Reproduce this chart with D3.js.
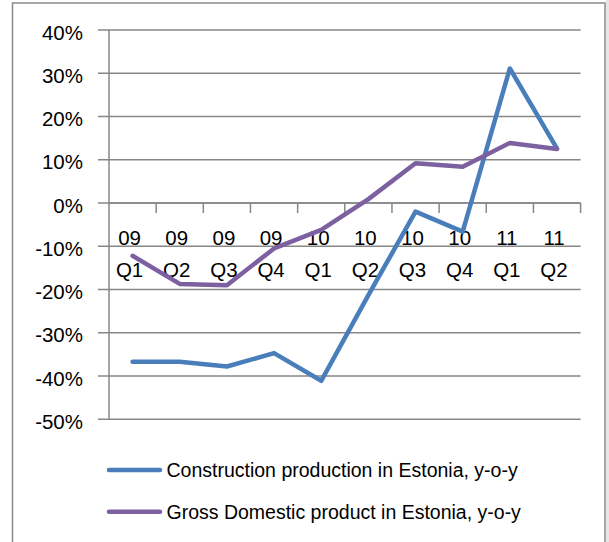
<!DOCTYPE html>
<html>
<head>
<meta charset="utf-8">
<script src="https://cdn.jsdelivr.net/npm/d3@7"></script>
<style>
  body { margin: 0; background: #fff; }
  text { font-family: "Liberation Sans", Arial, sans-serif; fill: #000; }
</style>
</head>
<body>
<div id="chart"></div>
<script>
const years = ['09', '09', '09', '09', '10', '10', '10', '10', '11', '11'];
const quarters = ['Q1', 'Q2', 'Q3', 'Q4', 'Q1', 'Q2', 'Q3', 'Q4', 'Q1', 'Q2'];
const construction = [-36.7, -36.7, -37.8, -34.7, -41.1, -21.3, -2.0, -6.6, 31.1, 12.6];
const gdp = [-12.2, -18.7, -19.0, -10.5, -6.2, 0.9, 9.2, 8.4, 13.9, 12.5];
const yTicks = [40, 30, 20, 10, 0, -10, -20, -30, -40, -50];
const seriesNames = ['Construction production in Estonia, y-o-y', 'Gross Domestic product in Estonia, y-o-y'];

const width = 609;
const height = 542;
const plot = {left: 109, right: 580.6, top: 30, bottom: 419.3};
const gridColor = '#878787';
const colors = ['#4A7EBB', '#7D60A0'];
const axisFont = 20.5;
const legendFont = 19.5;

const keys = years.map((y, i) => i);

const x = d3.scaleBand()
  .domain(keys)
  .range([plot.left, plot.right]);

const y = d3.scaleLinear()
  .domain([-50, 40])
  .range([plot.bottom, plot.top]);

// excel style percent, plain hyphen for negatives
const pct = (d) => d3.format('.0%')(d / 100).replace('\u2212', '-');

const svg = d3.select('#chart')
  .append('svg')
  .attr('width', width)
  .attr('height', height);

// chart frame
svg.append('rect')
  .attr('x', 606).attr('y', 0)
  .attr('width', 3).attr('height', height)
  .attr('fill', '#e6e6e6');

svg.append('rect')
  .attr('x', 12.5).attr('y', 3)
  .attr('width', 592.5).attr('height', 545)
  .attr('fill', '#fff')
  .attr('stroke', '#8a8a8a')
  .attr('stroke-width', 1.5);

// horizontal gridlines with outside ticks
svg.append('g')
  .selectAll('line')
  .data(yTicks)
  .enter()
  .append('line')
  .attr('x1', plot.left - 11)
  .attr('x2', plot.right)
  .attr('y1', d => y(d))
  .attr('y2', d => y(d))
  .attr('stroke', gridColor)
  .attr('stroke-width', 1.5);

svg.append('g')
  .selectAll('text')
  .data(yTicks)
  .enter()
  .append('text')
  .text(d => pct(d))
  .attr('x', 83)
  .attr('y', d => y(d) + 9.5)
  .attr('text-anchor', 'end')
  .attr('font-size', axisFont);

// value axis
svg.append('line')
  .attr('x1', plot.left).attr('x2', plot.left)
  .attr('y1', y(40)).attr('y2', y(-50))
  .attr('stroke', gridColor)
  .attr('stroke-width', 1.5);

// category axis crossing at 0
svg.append('line')
  .attr('x1', plot.left).attr('x2', plot.right)
  .attr('y1', y(0)).attr('y2', y(0))
  .attr('stroke', gridColor)
  .attr('stroke-width', 1.5);

svg.append('g')
  .selectAll('line')
  .data(keys)
  .enter()
  .append('line')
  .attr('x1', d => x(d) + x.bandwidth())
  .attr('x2', d => x(d) + x.bandwidth())
  .attr('y1', y(0))
  .attr('y2', y(0) + 10)
  .attr('stroke', gridColor)
  .attr('stroke-width', 1.5);

const catLabel = svg.append('g')
  .selectAll('text')
  .data(keys)
  .enter()
  .append('text')
  .attr('text-anchor', 'middle')
  .attr('font-size', axisFont);

catLabel.append('tspan')
  .attr('x', d => x(d) + x.bandwidth() / 2 - 3)
  .attr('y', y(0) + 42)
  .text(d => years[d]);

catLabel.append('tspan')
  .attr('x', d => x(d) + x.bandwidth() / 2 - 3)
  .attr('y', y(0) + 74)
  .text(d => quarters[d]);

// series lines, gdp drawn last so it sits on top
const line = d3.line()
  .x((d, i) => x(i) + x.bandwidth() / 2)
  .y(d => y(d));

[construction, gdp].forEach((series, i) => {
  svg.append('path')
    .datum(series)
    .attr('d', line)
    .attr('fill', 'none')
    .attr('stroke', colors[i])
    .attr('stroke-width', 4.5)
    .attr('stroke-linejoin', 'round')
    .attr('stroke-linecap', 'round');
});

// legend
const legend = svg.append('g')
  .selectAll('g')
  .data(seriesNames)
  .enter()
  .append('g')
  .attr('transform', (d, i) => `translate(0, ${470 + i * 41.7})`);

legend.append('line')
  .attr('x1', 109).attr('x2', 160)
  .attr('stroke', (d, i) => colors[i])
  .attr('stroke-width', 4.5)
  .attr('stroke-linecap', 'round');

legend.append('text')
  .text(d => d)
  .attr('x', 166.5)
  .attr('y', 7)
  .attr('font-size', legendFont);
</script>
</body>
</html>
